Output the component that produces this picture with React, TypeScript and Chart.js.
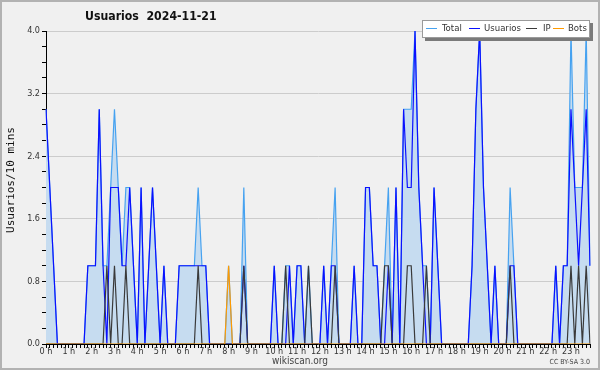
import { useEffect, useRef } from 'react';
import { Chart, registerables } from 'chart.js';

Chart.register(...registerables);

const hourLabels = ['0 h','1 h','2 h','3 h','4 h','5 h','6 h','7 h','8 h','9 h','10 h','11 h','12 h','13 h','14 h','15 h','16 h','17 h','18 h','19 h','20 h','21 h','22 h','23 h'];
const slotsPerHour = 6;

const total = [
  3,2,1,0,0,0, 0,0,0,0,0,1, 1,1,3,1,1,2, 3,2,1,2,2,1,
  0,2,0,1,2,1, 0,1,0,0,0,1, 1,1,1,1,2,1, 1,0,0,0,0,0,
  1,0,0,0,2,0, 0,0,0,0,0,0, 1,0,0,1,1,0, 1,1,0,1,0,0,
  0,1,0,1,2,0, 0,0,0,1,0,0, 2,2,1,1,0,1, 2,0,2,0,3,3,
  3,4,2,1,1,0, 2,1,0,0,0,0, 0,0,0,0,1,3, 4,2,1,0,1,0,
  0,0,2,1,0,0, 0,0,0,0,0,0, 0,0,1,0,1,1, 4,2,2,2,4,1
];
const usuarios = [
  3,2,1,0,0,0, 0,0,0,0,0,1, 1,1,3,1,0,2, 2,2,1,1,2,1,
  0,2,0,1,2,1, 0,1,0,0,0,1, 1,1,1,1,1,1, 1,0,0,0,0,0,
  0,0,0,0,1,0, 0,0,0,0,0,0, 1,0,0,0,1,0, 1,1,0,0,0,0,
  0,1,0,1,1,0, 0,0,0,1,0,0, 2,2,1,1,0,0, 1,0,2,0,3,2,
  2,4,2,1,0,0, 2,1,0,0,0,0, 0,0,0,0,1,3, 4,2,1,0,1,0,
  0,0,1,1,0,0, 0,0,0,0,0,0, 0,0,1,0,1,1, 3,2,1,2,3,1
];
const ip = [
  0,0,0,0,0,0, 0,0,0,0,0,0, 0,0,0,0,1,0, 1,0,0,1,0,0,
  0,0,0,0,0,0, 0,0,0,0,0,0, 0,0,0,0,1,0, 0,0,0,0,0,0,
  0,0,0,0,1,0, 0,0,0,0,0,0, 0,0,0,1,0,0, 0,0,0,1,0,0,
  0,0,0,0,1,0, 0,0,0,0,0,0, 0,0,0,0,0,1, 1,0,0,0,0,1,
  1,0,0,0,1,0, 0,0,0,0,0,0, 0,0,0,0,0,0, 0,0,0,0,0,0,
  0,0,1,0,0,0, 0,0,0,0,0,0, 0,0,0,0,0,0, 1,0,1,0,1,0
];
const bots = [
  0,0,0,0,0,0, 0,0,0,0,0,0, 0,0,0,0,0,0, 0,0,0,0,0,0,
  0,0,0,0,0,0, 0,0,0,0,0,0, 0,0,0,0,0,0, 0,0,0,0,0,0,
  1,0,0,0,0,0, 0,0,0,0,0,0, 0,0,0,0,0,0, 0,0,0,0,0,0,
  0,0,0,0,0,0, 0,0,0,0,0,0, 0,0,0,0,0,0, 0,0,0,0,0,0,
  0,0,0,0,0,0, 0,0,0,0,0,0, 0,0,0,0,0,0, 0,0,0,0,0,0,
  0,0,0,0,0,0, 0,0,0,0,0,0, 0,0,0,0,0,0, 0,0,0,0,0,0
];
const yMajorTicks = [0, 0.8, 1.6, 2.4, 3.2, 4.0];

const colors = { total: '#46a2f0', usuarios: '#0a10ff', ip: '#3a3a3a', bots: '#ff9a00', fill: '#c6dcf0' };
const FONT = '"DejaVu Sans Condensed", "DejaVu Sans", sans-serif';

const categories = hourLabels.flatMap((h) => [h, ...Array(slotsPerHour - 1).fill('')]);

const isMajor = (v: number) => yMajorTicks.some((m) => Math.abs(m - v) < 1e-6);

export default function App() {
  const ref = useRef<HTMLCanvasElement | null>(null);
  useEffect(() => {
    if (!ref.current) return;
    const line = (label: string, data: number[], color: string, order: number, extra = {}) => ({
      label, data, borderColor: color, borderWidth: 1.2, pointRadius: 0, tension: 0, fill: false, order, ...extra,
    });
    const chart = new Chart(ref.current, {
      type: 'line',
      data: {
        labels: categories,
        datasets: [
          line('Total', total, colors.total, 4, { fill: 'origin', backgroundColor: colors.fill }),
          line('Usuarios', usuarios, colors.usuarios, 3),
          line('IP', ip, colors.ip, 2),
          line('Bots', bots, colors.bots, 1),
        ],
      },
      options: {
        responsive: false,
        animation: false,
        events: [],
        layout: { padding: { left: 0, right: 10, top: 31, bottom: 0 } },
        plugins: { legend: { display: false }, title: { display: false }, tooltip: { enabled: false } },
        scales: {
          x: {
            type: 'category',
            offset: false,
            z: 1,
            grid: { display: true, drawOnChartArea: false, drawTicks: true, tickLength: 4, color: '#000', tickColor: '#000', lineWidth: 1 },
            border: { display: true, color: '#000', width: 1 },
            ticks: { autoSkip: false, maxRotation: 0, minRotation: 0, padding: -2, color: '#333', font: { family: FONT, size: 9 } },
            afterFit: (s: any) => { s.height = 26; },
          },
          y: {
            min: 0,
            max: 4,
            z: 1,
            grid: {
              drawTicks: true,
              tickLength: 4,
              color: (c: any) => (c.tick && isMajor(c.tick.value) && c.tick.value > 0 ? '#cccccc' : 'rgba(0,0,0,0)'),
              tickColor: '#000',
            },
            border: { display: true, color: '#000', width: 1 },
            ticks: {
              stepSize: 0.2,
              maxTicksLimit: 100,
              autoSkip: false,
              padding: 2,
              color: '#333',
              font: { family: FONT, size: 9 },
              callback: (v: any) => (isMajor(Number(v)) ? Number(v).toFixed(1) : ''),
            },
            afterFit: (s: any) => { s.width = 46; },
          },
        },
      },
    });
    return () => chart.destroy();
  }, []);

  const legendItems = [
    { label: 'Total', color: colors.total, lx: 426, tx: 442 },
    { label: 'Usuarios', color: colors.usuarios, lx: 469, tx: 484 },
    { label: 'IP', color: colors.ip, lx: 526, tx: 543 },
    { label: 'Bots', color: colors.bots, lx: 553, tx: 568 },
  ];

  return (
    <div style={{ position: 'fixed', left: 0, top: 0, width: 600, height: 370, background: '#f0f0f0', overflow: 'hidden' }}>
      <canvas ref={ref} width={600} height={370} style={{ position: 'absolute', left: 0, top: 0, width: 600, height: 370 }} />
      <div style={{ position: 'absolute', left: 0, top: 0, width: 600, height: 370, boxSizing: 'border-box', border: '2px solid #b2b2b2', pointerEvents: 'none' }} />
      <div style={{ position: 'absolute', left: 85, top: 9, font: `bold 12.2px ${FONT}`, color: '#111', whiteSpace: 'pre' }}>{'Usuarios  2024-11-21'}</div>
      <div style={{ position: 'absolute', left: 422, top: 20, width: 166, height: 16, background: '#fff', border: '1px solid #9a9a9a', boxShadow: '3px 3px 0 #7a7a7a' }} />
      {legendItems.map((it) => (
        <div key={it.label}>
          <div style={{ position: 'absolute', left: it.lx, top: 28, width: 11, height: 1.2, background: it.color }} />
          <div style={{ position: 'absolute', left: it.tx, top: 22, font: `9.5px ${FONT}`, lineHeight: '12px', color: '#333', whiteSpace: 'nowrap' }}>{it.label}</div>
        </div>
      ))}
      <div style={{ position: 'absolute', left: 10, top: 180, transform: 'translate(-50%, -50%) rotate(-90deg)', font: `11px "DejaVu Sans Mono", monospace`, color: '#111', whiteSpace: 'nowrap' }}>Usuarios/10 mins</div>
      <div style={{ position: 'absolute', left: 300, top: 355, transform: 'translateX(-50%)', font: `10px ${FONT}`, color: '#444' }}>wikiscan.org</div>
      <div style={{ position: 'absolute', right: 10, top: 358, font: `7px ${FONT}`, color: '#444' }}>CC BY-SA 3.0</div>
    </div>
  );
}
